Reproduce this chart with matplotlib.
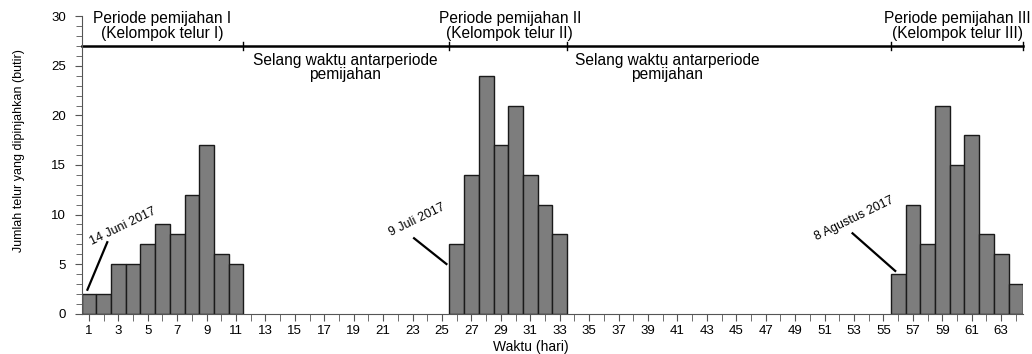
import numpy as np
import matplotlib.pyplot as plt
from matplotlib.ticker import MultipleLocator

plt.rcParams['font.family'] = ['Liberation Sans', 'DejaVu Sans']

# === Data: eggs spawned per day ===
days_p1 = [1, 2, 3, 4, 5, 6, 7, 8, 9, 10, 11]
eggs_p1 = [2, 2, 5, 5, 7, 9, 8, 12, 17, 6, 5]

days_p2 = [26, 27, 28, 29, 30, 31, 32, 33]
eggs_p2 = [7, 14, 24, 17, 21, 14, 11, 8]

days_p3 = [56, 57, 58, 59, 60, 61, 62, 63, 64]
eggs_p3 = [4, 11, 7, 21, 15, 18, 8, 6, 3]

# period boundaries (day edges) and labels
bounds = [0.5, 11.5, 25.5, 33.5, 55.5, 64.5]
period_labels = ["Periode pemijahan I\n(Kelompok telur I)",
                 "Periode pemijahan II\n(Kelompok telur II)",
                 "Periode pemijahan III\n(Kelompok telur III)"]
period_x = [6, 29.6, 60]
gap_label = "Selang waktu antarperiode\npemijahan"
gap_x = [18.4, 40.3]

# date annotations: text, line start, line end, text position
notes = [
    ("14 Juni 2017", (0.9, 2.4), (2.25, 7.2), (3.3, 8.8)),
    ("9 Juli 2017", (23.1, 7.6), (25.3, 5.0), (23.3, 9.4)),
    ("8 Agustus 2017", (52.9, 8.1), (55.8, 4.3), (53.0, 9.6)),
]

fig = plt.figure(figsize=(10.32, 3.54), dpi=100)
ax = fig.add_axes([0.079, 0.1144, 0.9125, 0.839])

days = days_p1 + days_p2 + days_p3
eggs = eggs_p1 + eggs_p2 + eggs_p3
ax.bar(days, eggs, width=1.0, color='#7d7d7d', edgecolor='#1a1a1a', linewidth=1.0)

ax.set_xlim(0.5, 64.5)
ax.set_ylim(0, 30)
for s in ['top', 'right']:
    ax.spines[s].set_visible(False)
ax.spines['left'].set_color('#555555')
ax.spines['bottom'].set_color('#555555')

ax.set_xticks(np.arange(1, 64, 2))
ax.xaxis.set_minor_locator(MultipleLocator(1))
ax.yaxis.set_major_locator(MultipleLocator(5))
ax.yaxis.set_minor_locator(MultipleLocator(1))
ax.tick_params(axis='both', which='major', length=5, color='#555555', labelsize=9.5)
ax.tick_params(axis='y', which='major', pad=6)
ax.tick_params(axis='both', which='minor', length=4, color='#555555')
ax.tick_params(axis='x', which='minor', length=5)

ax.set_xlabel("Waktu (hari)", fontsize=10)
ax.xaxis.set_label_coords(0.477, -0.09)
ax.set_ylabel("Jumlah telur yang dipinjahkan (butir)", fontsize=9)
ax.yaxis.set_label_coords(-0.06, 0.55)

# period bracket
ax.plot([bounds[0], bounds[-1]], [27, 27], color='black', lw=1.8, clip_on=False)
for b in bounds[1:]:
    ax.plot([b, b], [26.6, 27.4], color='black', lw=1.0, clip_on=False)

for lab, x in zip(period_labels, period_x):
    ax.text(x, 29.0, lab, ha='center', va='center', fontsize=11.2, linespacing=1.0)
for x in gap_x:
    ax.text(x, 24.85, gap_label, ha='center', va='center', fontsize=11.2, linespacing=0.95)

for txt, p0, p1, pt in notes:
    ax.plot([p0[0], p1[0]], [p0[1], p1[1]], color='black', lw=1.6)
    ax.text(pt[0], pt[1], txt, ha='center', va='center', rotation=26, fontsize=9)

fig.savefig("out.png", dpi=100)
